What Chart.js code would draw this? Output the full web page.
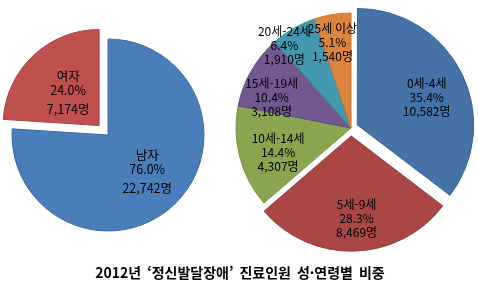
<!DOCTYPE html>
<html lang="ko">
<head>
<meta charset="UTF-8">
<title>2012년 정신발달장애 진료인원 성·연령별 비중</title>
<script src="https://cdn.jsdelivr.net/npm/chart.js"></script>
<style>
  body { margin: 0; background: #fff; }
  #wrap { position: relative; width: 478px; height: 290px; overflow: hidden; }
  #sexChart { position: absolute; left: 0; top: 0; }
  #ageChart { position: absolute; left: 226px; top: 0; }
  #title { position: absolute; left: 0; top: 262px; width: 480px; text-align: center;
           font: bold 14px "Noto Sans CJK KR", sans-serif; color: #000; word-spacing: 2px; }
</style>
</head>
<body>
<div id="wrap">
  <canvas id="sexChart" width="216" height="270"></canvas>
  <canvas id="ageChart" width="250" height="256"></canvas>
  <div id="title">2012년 ‘정신발달장애’ 진료인원 성·연령별 비중</div>
</div>

<script>
// gender split
const sexLabels = ['남자', '여자'];
const sexCounts = [22742, 7174];
const sexPct = ['76.0%', '24.0%'];

// age groups
const ageLabels = ['0세-4세', '5세-9세', '10세-14세', '15세-19세', '20세-24세', '25세 이상'];
const ageCounts = [10582, 8469, 4307, 3108, 1910, 1540];
const agePct = ['35.4%', '28.3%', '14.4%', '10.4%', '6.4%', '5.1%'];

const fmt = n => n.toLocaleString('en-US') + '명';

// draws the three-line label inside each slice
const sliceLabels = {
  id: 'sliceLabels',
  afterDatasetsDraw(chart, args, opts) {
    const ctx = chart.ctx;
    const meta = chart.getDatasetMeta(0);
    ctx.save();
    ctx.font = opts.font;
    ctx.fillStyle = '#000';
    ctx.textAlign = 'center';
    ctx.textBaseline = 'middle';
    meta.data.forEach((arc, i) => {
      const p = arc.getProps(['x', 'y', 'startAngle', 'endAngle', 'outerRadius']);
      const mid = (p.startAngle + p.endAngle) / 2;
      const shift = (arc.options.offset || 0) / 4;
      const place = opts.place[i];
      const ang = mid + (place.a || 0) * Math.PI / 180;
      const r = place.r * p.outerRadius;
      const x = p.x + Math.cos(mid) * shift + Math.cos(ang) * r;
      const y = p.y + Math.sin(mid) * shift + Math.sin(ang) * r;
      opts.lines(i).forEach((t, k) => ctx.fillText(t, x, y + opts.dy[k]));
    });
    ctx.restore();
  }
};

new Chart(document.getElementById('sexChart'), {
  type: 'pie',
  data: {
    labels: sexLabels,
    datasets: [{
      data: sexCounts,
      backgroundColor: ['#4a7ebb', '#c0504d'],
      borderColor: ['#3d6ca6', '#a9423f'],
      borderWidth: 1,
      offset: [0, 52]
    }]
  },
  options: {
    responsive: false,
    animation: false,
    events: [],
    radius: 96,
    layout: { padding: 0 },
    plugins: {
      legend: { display: false },
      tooltip: { enabled: false },
      sliceLabels: {
        font: '12.5px "Noto Sans CJK KR", sans-serif',
        dy: [-14, 0, 19],
        place: [{ r: 0.54, a: -6 }, { r: 0.49, a: 2 }],
        lines: i => [sexLabels[i], sexPct[i], fmt(sexCounts[i])]
      }
    }
  },
  plugins: [sliceLabels]
});

new Chart(document.getElementById('ageChart'), {
  type: 'pie',
  data: {
    labels: ageLabels,
    datasets: [{
      data: ageCounts,
      backgroundColor: ['#4572a7', '#aa4643', '#89a54e', '#71588f', '#4198af', '#db843d'],
      borderColor: ['#3b6494', '#963b39', '#7a9444', '#634d7f', '#38879c', '#c77633'],
      borderWidth: 1,
      offset: [28, 32, 0, 0, 0, 0]
    }]
  },
  options: {
    responsive: false,
    animation: false,
    events: [],
    radius: 115,
    layout: { padding: 0 },
    plugins: {
      legend: { display: false },
      tooltip: { enabled: false },
      sliceLabels: {
        font: '12px "Noto Sans CJK KR", sans-serif',
        dy: [-14, 0, 14],
        place: [
          { r: 0.65, a: 4.5 },
          { r: 0.72, a: -2 },
          { r: 0.67, a: -4 },
          { r: 0.74, a: -8.6 },
          { r: 0.92, a: -9 },
          { r: 0.76, a: -3 }
        ],
        lines: i => [ageLabels[i], agePct[i], fmt(ageCounts[i])]
      }
    }
  },
  plugins: [sliceLabels]
});
</script>
</body>
</html>
